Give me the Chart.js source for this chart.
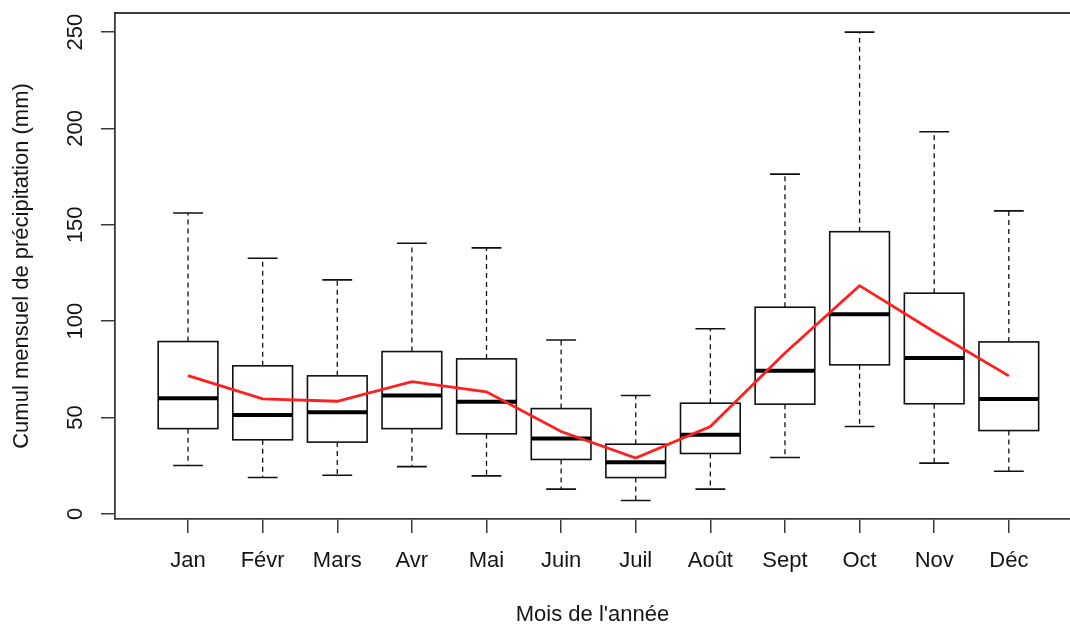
<!DOCTYPE html>
<html>
<head>
<meta charset="utf-8">
<script src="https://cdn.jsdelivr.net/npm/chart.js@4"></script>
<style>
  html, body { margin: 0; padding: 0; background: #fff; overflow: hidden; }
  #wrap { width: 1070px; height: 626px; position: relative; }
</style>
</head>
<body>
<div id="wrap"><canvas id="chart"></canvas></div>
<script>
const months = ["Jan", "Févr", "Mars", "Avr", "Mai", "Juin", "Juil", "Août", "Sept", "Oct", "Nov", "Déc"];
const whiskerLow = [25.1, 18.8, 20.0, 24.5, 19.7, 12.8, 6.9, 12.8, 29.2, 45.3, 26.3, 22.1];
const q1 = [44.2, 38.4, 37.2, 44.2, 41.5, 28.2, 18.8, 31.3, 56.9, 77.3, 57.1, 43.2];
const medians = [60.0, 51.3, 52.7, 61.4, 58.1, 39.1, 26.8, 41.0, 74.2, 103.6, 80.8, 59.6];
const q3 = [89.4, 76.8, 71.6, 84.2, 80.4, 54.6, 36.1, 57.4, 107.2, 146.4, 114.5, 89.2];
const whiskerHigh = [156.1, 132.6, 121.4, 140.4, 138.0, 90.2, 61.4, 96.0, 176.3, 250.0, 198.3, 157.2];
const means = [71.7, 59.6, 58.4, 68.6, 63.3, 42.7, 28.9, 45.3, 83.5, 118.4, 94.5, 71.6];
const yTicks = [0, 50, 100, 150, 200, 250];

const fontFamily = "'Liberation Sans', Arial, Helvetica, sans-serif";
const textColor = "#151515";
const lineColor = "#3a3a3a";

// R-style boxplots drawn through the chart scales
const boxPlotPlugin = {
  id: "boxPlot",
  beforeDatasetsDraw(chart) {
    const { ctx, chartArea, scales: { x, y } } = chart;
    const boxHalf = x.getPixelForValue(1.4) - x.getPixelForValue(1); // boxwex 0.8
    const capHalf = boxHalf / 2;
    ctx.save();
    ctx.beginPath();
    ctx.rect(chartArea.left, chartArea.top, chartArea.width, chartArea.height);
    ctx.clip();
    months.forEach((m, i) => {
      const cx = x.getPixelForValue(i + 1);
      const yLo = y.getPixelForValue(whiskerLow[i]);
      const yQ1 = y.getPixelForValue(q1[i]);
      const yMed = y.getPixelForValue(medians[i]);
      const yQ3 = y.getPixelForValue(q3[i]);
      const yHi = y.getPixelForValue(whiskerHigh[i]);

      // whiskers (dashed)
      ctx.strokeStyle = "#111";
      ctx.lineWidth = 1.3;
      ctx.setLineDash([5, 4]);
      ctx.beginPath();
      ctx.moveTo(cx, yQ3);
      ctx.lineTo(cx, yHi);
      ctx.moveTo(cx, yQ1);
      ctx.lineTo(cx, yLo);
      ctx.stroke();
      ctx.setLineDash([]);

      // caps
      ctx.lineWidth = 1.6;
      ctx.beginPath();
      ctx.moveTo(cx - capHalf, yHi);
      ctx.lineTo(cx + capHalf, yHi);
      ctx.moveTo(cx - capHalf, yLo);
      ctx.lineTo(cx + capHalf, yLo);
      ctx.stroke();

      // box
      ctx.fillStyle = "#fff";
      ctx.fillRect(cx - boxHalf, yQ3, boxHalf * 2, yQ1 - yQ3);
      ctx.lineWidth = 1.6;
      ctx.strokeRect(cx - boxHalf, yQ3, boxHalf * 2, yQ1 - yQ3);

      // median
      ctx.strokeStyle = "#000";
      ctx.lineWidth = 4;
      ctx.beginPath();
      ctx.moveTo(cx - boxHalf, yMed);
      ctx.lineTo(cx + boxHalf, yMed);
      ctx.stroke();
    });
    ctx.restore();
  },
  afterDraw(chart) {
    const { ctx, chartArea, scales: { y } } = chart;
    // top of the frame
    ctx.save();
    ctx.strokeStyle = lineColor;
    ctx.lineWidth = 1.8;
    ctx.beginPath();
    ctx.moveTo(chartArea.left, chartArea.top);
    ctx.lineTo(chartArea.right, chartArea.top);
    ctx.stroke();

    // rotated y tick labels, as R draws them
    ctx.fillStyle = textColor;
    ctx.font = `22px ${fontFamily}`;
    ctx.textAlign = "center";
    ctx.textBaseline = "middle";
    yTicks.forEach((v) => {
      ctx.save();
      ctx.translate(chartArea.left - 39, y.getPixelForValue(v));
      ctx.rotate(-Math.PI / 2);
      ctx.fillText(String(v), 0, 0);
      ctx.restore();
    });
    ctx.restore();
  },
};

new Chart(document.getElementById("chart"), {
  type: "line",
  data: {
    datasets: [
      {
        label: "Moyenne",
        data: means.map((v, i) => ({ x: i + 1, y: v })),
        borderColor: "#ff1f1f",
        borderWidth: 2.8,
        pointRadius: 0,
        tension: 0,
        fill: false,
      },
    ],
  },
  options: {
    responsive: true,
    maintainAspectRatio: false,
    animation: false,
    layout: { padding: { top: 13, right: 0, bottom: 0, left: 0 } },
    plugins: {
      legend: { display: false },
      tooltip: { enabled: false },
    },
    scales: {
      x: {
        type: "linear",
        min: 0.021,
        max: 12.82,
        afterFit: (scale) => { scale.height = 107; },
        grid: {
          drawOnChartArea: false,
          drawTicks: true,
          tickLength: 14,
          tickColor: lineColor,
          lineWidth: 1.5,
        },
        border: { display: true, color: lineColor, width: 1.8 },
        ticks: {
          stepSize: 1,
          includeBounds: false,
          autoSkip: false,
          maxRotation: 0,
          padding: 15,
          color: textColor,
          font: { family: fontFamily, size: 22 },
          callback: (value) => months[value - 1] || "",
        },
        title: {
          display: true,
          text: "Mois de l'année",
          color: textColor,
          font: { family: fontFamily, size: 22 },
          padding: { top: 0, bottom: -2 },
        },
      },
      y: {
        type: "linear",
        min: -2.7,
        max: 259.9,
        afterFit: (scale) => { scale.width = 115; },
        grid: {
          drawOnChartArea: false,
          drawTicks: true,
          tickLength: 14,
          tickColor: lineColor,
          lineWidth: 1.5,
        },
        border: { display: true, color: lineColor, width: 1.8 },
        ticks: {
          display: false,
          stepSize: 50,
          includeBounds: false,
        },
        title: {
          display: true,
          text: "Cumul mensuel de précipitation (mm)",
          color: textColor,
          font: { family: fontFamily, size: 22 },
          padding: { top: 9, bottom: 0 },
        },
      },
    },
  },
  plugins: [boxPlotPlugin],
});
</script>
</body>
</html>
